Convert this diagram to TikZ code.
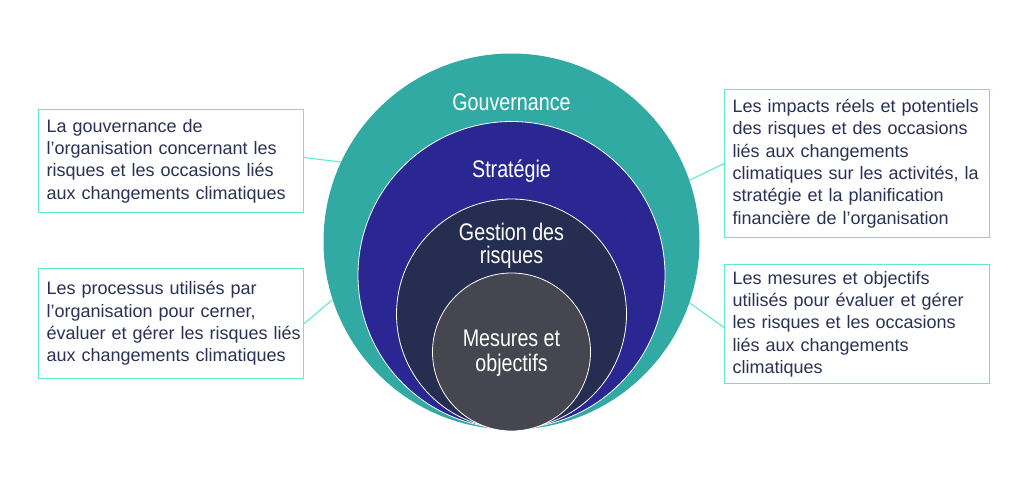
\documentclass[tikz,border=0pt]{standalone}
\usepackage{fontspec}
\setmainfont{Liberation Sans}
\newfontfamily\condfont[FakeStretch=0.82]{Liberation Sans}
\definecolor{teal1}{HTML}{31AAA3}
\definecolor{blue1}{HTML}{2A2793}
\definecolor{navy1}{HTML}{252E50}
\definecolor{gray1}{HTML}{45464F}
\definecolor{aqua1}{HTML}{5EEBD0}
\definecolor{txt1}{HTML}{2B3154}
\tikzset{
  ring/.style={circle, inner sep=0pt, draw=white, line width=0.8pt},
  lbl/.style={text=white, font=\condfont\fontsize{24}{26}\selectfont, align=center, inner sep=0pt},
  infobox/.style={draw=aqua1, line width=1.2pt, anchor=north west, text=txt1, align=left,
    inner xsep=8pt, inner ysep=0pt, text width=249pt, minimum width=265pt,
    font=\fontsize{18}{22.3}\selectfont},
  conn/.style={draw=aqua1, line width=1.1pt}
}
\begin{document}
\begin{tikzpicture}[x=1pt,y=-1pt]
\useasboundingbox (0,0) rectangle (1024,484);
\fill[white] (0,0) rectangle (1024,484);
% circles
\node[circle, inner sep=0pt, fill=teal1, minimum size=376pt] (gov) at (511.5,241.5) {};
\node[ring, fill=blue1, minimum size=307pt] (strat) at (511.5,275) {};
\node[ring, fill=navy1, minimum size=230pt] (risk) at (511.5,314) {};
\node[ring, fill=gray1, minimum size=158pt] (mes) at (511.5,352) {};
% labels
\node[lbl] (lgov) at (511.5,102) {Gouvernance};
\node[lbl] (lstrat) at (511.5,171) {Stratégie};
\node[lbl] (lrisk1) at (511.5,231.5) {Gestion des};
\node[lbl] (lrisk2) at (511.5,257.5) {risques};
\node[lbl] (lmes1) at (511.5,338) {Mesures et};
\node[lbl] (lmes2) at (511.5,365) {objectifs};
% boxes
\node[infobox, minimum height=103pt] (b1) at (38,109) {La gouvernance de\\l’organisation concernant les\\risques et les occasions liés\\aux changements climatiques};
\node[infobox, minimum height=110pt] (b2) at (38,268) {Les processus utilisés par\\l’organisation pour cerner,\\\mbox{évaluer et gérer les risques liés}\\aux changements climatiques};
\node[infobox, minimum height=148pt] (b3) at (724,89) {\mbox{Les impacts réels et potentiels}\\des risques et des occasions\\liés aux changements\\\mbox{climatiques sur les activités, la}\\stratégie et la planification\\financière de l’organisation};
\node[infobox, minimum height=119pt] (b4) at (724,264) {Les mesures et objectifs\\\mbox{utilisés pour évaluer et gérer}\\les risques et les occasions\\liés aux changements\\climatiques};
% connectors
\draw[conn] ([yshift=3.5pt]b1.east) -- (gov.155.3);
\draw[conn] (b2.east) -- (gov.198.8);
\draw[conn] (b3.west) -- (gov.19.9);
\draw[conn] ([yshift=-3.5pt]b4.west) -- (gov.-19.4);
\end{tikzpicture}
\end{document}
